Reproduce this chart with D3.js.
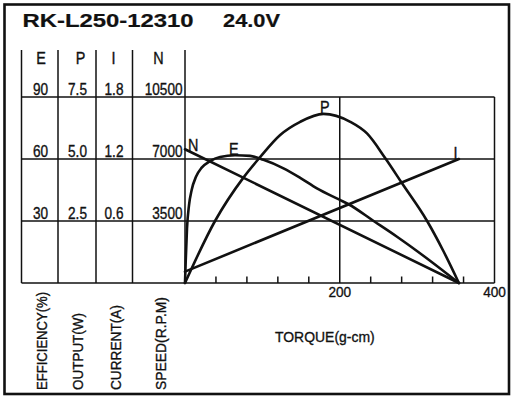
<!DOCTYPE html>
<html><head><meta charset="utf-8">
<script src="https://cdn.jsdelivr.net/npm/d3@7"></script>
<style>
html,body{margin:0;padding:0;background:#fff;}
svg{display:block;}
text{font-family:"Liberation Sans",Arial,sans-serif;fill:#111;stroke:#111;stroke-width:0.35;}
</style></head>
<body>
<svg id="c" width="516" height="400"></svg>
<script>
// ---- data ----
const title = "RK-L250-12310";
const voltage = "24.0V";
const columnHeaders = ["E", "P", "I", "N"];
const effTicks = ["30", "60", "90"];
const outTicks = ["2.5", "5.0", "7.5"];
const curTicks = ["0.6", "1.2", "1.8"];
const spdTicks = ["3500", "7000", "10500"];
const gridLevels = [30, 60, 90];           // efficiency levels of grid rows
const torqueTicks = [40, 80, 120, 160, 240, 280, 320, 360];
const torqueLabels = [200, 400];
const axisTitles = ["EFFICIENCY(%)", "OUTPUT(W)", "CURRENT(A)", "SPEED(R.P.M)"];
const torqueTitle = "TORQUE(g-cm)";

// speed (N) and current (I) straight lines
const torqueN = [0, 354];
const speed = [7550, 0];
const torqueI = [0, 354];
const current = [0.11, 1.2];
// output power (P)
const torqueP = [0, 38.8, 75.5, 95.8, 123, 148.9, 179, 213.6, 235.2, 258.9, 280.5, 312.9, 334.4, 354];
const output = [0, 2.5, 4.25, 5.03, 5.97, 6.5, 6.82, 6.5, 6.03, 5.03, 4.02, 2.5, 1.26, 0];
// efficiency (E)
const torqueE = [0, 0.9, 2.6, 5.2, 8.6, 14.2, 21.6, 32.4, 45.3, 64.7, 84.1, 101.4, 127.3, 148.9, 170.5, 199.7, 211.4, 243.8, 274, 308.5, 354];
const efficiency = [0, 10.3, 26.5, 37.7, 45, 51.4, 55.8, 59, 61, 61.8, 61.5, 59.6, 55.5, 50.9, 45.8, 40.3, 38.1, 30, 22.4, 13.1, 0];

// ---- layout ----
const svg = d3.select("#c");
const ink = "#111";
const x = d3.scaleLinear().domain([0, 400]).range([185, 494.5]);
const yE = d3.scaleLinear().domain([0, 90]).range([283, 97]);
const yP = d3.scaleLinear().domain([0, 7.5]).range([283, 97]);
const yI = d3.scaleLinear().domain([0, 1.8]).range([283, 97]);
const yN = d3.scaleLinear().domain([0, 10500]).range([283, 97]);
const colLines = [21.5, 58, 96, 132.5, 185];
const colCenters = [40.5, 77.5, 114, 182.5];

function txt(s, px, py, anchor, size, sx, weight) {
  return svg.append("text")
    .attr("transform", `translate(${px},${py}) scale(${sx},1)`)
    .attr("text-anchor", anchor)
    .attr("font-size", size)
    .attr("font-weight", weight || "normal")
    .text(s);
}

// outer frame
svg.append("rect").attr("x", 4.5).attr("y", 4.5).attr("width", 504.5).attr("height", 389.5)
  .attr("fill", "none").attr("stroke", ink).attr("stroke-width", 2.6);

// title
svg.append("text").attr("x", 22.5).attr("y", 27).attr("font-size", 18).attr("font-weight", "bold")
  .style("stroke-width", 0.2)
  .attr("textLength", 171).attr("lengthAdjust", "spacingAndGlyphs").text(title);
svg.append("text").attr("x", 223).attr("y", 27).attr("font-size", 18).attr("font-weight", "bold")
  .style("stroke-width", 0.2)
  .attr("textLength", 57).attr("lengthAdjust", "spacingAndGlyphs").text(voltage);

const g = svg.append("g").attr("stroke", ink).attr("stroke-width", 1.5).attr("fill", "none");
// column separators
colLines.forEach(cx => g.append("line").attr("x1", cx).attr("x2", cx).attr("y1", 50).attr("y2", yE(0)));
// horizontal grid rows + axis
gridLevels.concat([0]).forEach(v => g.append("line")
  .attr("x1", colLines[0]).attr("x2", x(400)).attr("y1", yE(v)).attr("y2", yE(v)));
// vertical grid at 200 and right border at 400
[200, 400].forEach(t => g.append("line").attr("x1", x(t)).attr("x2", x(t)).attr("y1", yE(90)).attr("y2", yE(0)));
// ticks
torqueTicks.forEach(t => g.append("line").attr("x1", x(t)).attr("x2", x(t)).attr("y1", yE(0)).attr("y2", yE(0) - 6.5));

// column headers
const headerX = [41, 80.5, 113.5, 158.5];
columnHeaders.forEach((h, i) => txt(h, headerX[i], 63.5, "middle", 16, 0.9));
// row values
const cols = [effTicks, outTicks, curTicks, spdTicks];
gridLevels.forEach((lv, r) => {
  const yy = yE(lv) - 2;
  cols.forEach((arr, c) => txt(arr[r], colCenters[c], yy, c === 3 ? "end" : "middle", 16, 0.85));
});

// torque labels
torqueLabels.forEach(t => txt(String(t), x(t), 297, "middle", 15.5, 0.88));
txt(torqueTitle, 275, 342, "start", 15.5, 0.9);

// rotated axis titles
const rotX = [46.5, 83, 120.5, 165.5];
const rotLen = [98, 77, 85, 93];
axisTitles.forEach((s, i) => {
  svg.append("text").attr("transform", `translate(${rotX[i]},390) rotate(-90)`)
    .attr("font-size", 15.5).attr("textLength", rotLen[i]).attr("lengthAdjust", "spacingAndGlyphs").text(s);
});

// curves
const cg = svg.append("g").attr("fill", "none").attr("stroke", ink).attr("stroke-width", 2.6)
  .attr("stroke-linejoin", "round").attr("stroke-linecap", "round");
const lineOf = (xs, ys, ys_scale) => d3.line().curve(d3.curveMonotoneX)
  .x((d, i) => x(xs[i])).y((d, i) => ys_scale(ys[i]))(xs);
cg.append("path").attr("d", lineOf(torqueN, speed, yN));
cg.append("path").attr("d", lineOf(torqueI, current, yI));
cg.append("path").attr("d", lineOf(torqueP, output, yP));
cg.append("path").attr("d", lineOf(torqueE, efficiency, yE));

// curve labels
txt("N", 188, 150.5, "start", 16, 0.9);
txt("E", 229, 154.5, "start", 16, 0.9);
txt("P", 320, 112.5, "start", 16, 0.9);
txt("I", 455.5, 158.5, "middle", 16, 0.9);
</script>
</body></html>
